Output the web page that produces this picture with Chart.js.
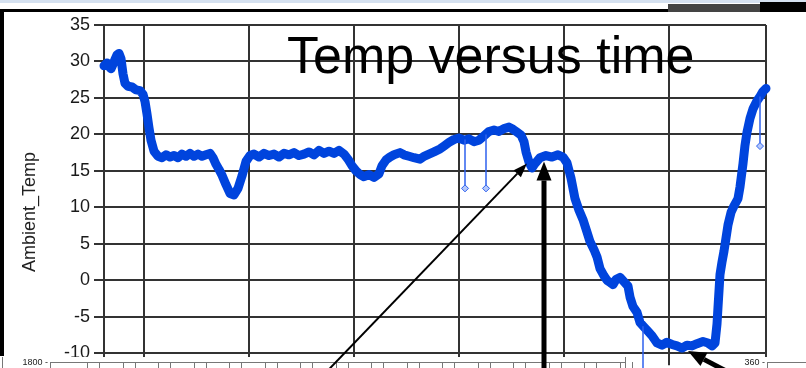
<!DOCTYPE html>
<html>
<head>
<meta charset="utf-8">
<script src="https://cdn.jsdelivr.net/npm/chart.js@4.4.1/dist/chart.umd.min.js"></script>
<style>
	html, body { margin: 0; padding: 0; background: #fff; }
</style>
</head>
<body>
<canvas id="myChart" width="806" height="368"></canvas>
<script>
const CHART_TITLE = "Temp versus time";
const Y_TITLE = "Ambient_Temp";
const X_GRID = [0, 40, 145, 250, 355, 460, 565, 662];

// time (samples) and ambient temperature
const timeVals = [0, 3, 5, 7, 9, 11, 13, 15, 17, 19, 21, 24, 28, 32, 36, 39, 41, 43, 45, 47,
	50, 54, 58, 62, 66, 70, 74, 78, 82, 86, 90, 94, 98, 102, 106, 109, 112, 115, 118, 122,
	126, 130, 134, 138, 142, 146, 150, 155, 160, 165, 170, 175, 180, 185, 190, 195, 200, 205, 210, 215,
	220, 225, 230, 235, 240, 244, 248, 252, 256, 260, 265, 270, 275, 278, 282, 286, 290, 296, 300, 305,
	310, 316, 320, 325, 330, 336, 340, 345, 350, 355, 360, 365, 370, 375, 380, 385, 390, 395, 400, 405,
	409, 413, 417, 420, 422, 425, 428, 431, 436, 442, 448, 454, 459, 463, 467, 471, 475, 479, 483, 486,
	490, 493, 496, 500, 503, 506, 509, 512, 516, 520, 524, 526, 529, 533, 536, 540, 544, 548, 553, 558,
	563, 568, 573, 578, 583, 588, 593, 599, 604, 608, 611, 613, 614, 616, 618, 620, 622, 624, 627, 630,
	634, 636, 639, 641, 643, 646, 649, 653, 656, 659, 662];
const tempVals = [29.4, 29.8, 29.3, 29.0, 29.6, 30.3, 30.9, 31.1, 30.4, 28.3, 27.0, 26.6, 26.5, 26.1, 26.0, 25.5, 24.5, 22.8, 20.9, 19.2,
	17.7, 17.0, 16.8, 17.2, 16.9, 17.1, 16.8, 17.3, 17.0, 17.4, 17.0, 17.3, 17.0, 17.2, 17.4, 16.8, 15.9, 15.2, 14.4, 13.1,
	11.9, 11.7, 12.6, 14.3, 16.3, 17.1, 17.3, 16.9, 17.4, 17.1, 17.3, 16.9, 17.4, 17.2, 17.5, 17.1, 17.3, 17.6, 17.2, 17.8,
	17.4, 17.7, 17.4, 17.8, 17.3, 16.6, 15.7, 15.0, 14.5, 14.2, 14.5, 14.1, 14.6, 15.7, 16.5, 16.9, 17.2, 17.5, 17.2, 17.0,
	16.8, 16.6, 17.0, 17.3, 17.6, 18.0, 18.4, 18.9, 19.3, 19.5, 19.2, 19.4, 19.0, 19.2, 19.8, 20.4, 20.6, 20.4, 20.8, 21.0,
	20.7, 20.3, 19.9, 19.0, 17.6, 16.2, 15.4, 16.0, 16.8, 17.1, 16.9, 17.2, 16.9, 16.1, 14.0, 11.2, 9.6, 8.3, 6.6, 5.3,
	4.2, 3.2, 1.6, 0.6, 0.0, -0.3, -0.6, 0.1, 0.4, -0.2, -0.8, -2.3, -3.6, -4.4, -5.8, -6.4, -7.0, -7.6, -8.6, -8.9,
	-8.5, -8.8, -9.0, -9.3, -8.9, -9.0, -8.7, -8.4, -8.6, -9.0, -8.6, -6.0, -3.7, 0.8, 2.5, 4.0, 5.8, 7.6, 9.3, 10.2,
	11.2, 12.8, 16.0, 18.5, 20.3, 22.2, 23.5, 24.6, 25.2, 25.9, 26.3];

// single-sample dropouts
const spikeTimes = [361, 382, 539, 656];
const spikeTops = [19.3, 20.0, -6.3, 25.2];
const spikeBottoms = [12.6, 12.6, -12.5, 18.4];

// arrow tips (data coords) pasted on the slide
const arrowTips = [[423, 16.0], [440, 16.3], [584, -9.7]];

const mainData = timeVals.map((t, i) => ({ x: t, y: tempVals[i] }));
const spikeData = [];
spikeTimes.forEach((t, i) => {
	spikeData.push({ x: t, y: spikeTops[i] }, { x: t, y: spikeBottoms[i] }, { x: t, y: null });
});

const FONT = '"Liberation Sans", Arial, sans-serif';

function arrow(ctx, x1, y1, x2, y2, w, headLen, headW) {
	const ang = Math.atan2(y2 - y1, x2 - x1);
	const bx = x2 - Math.cos(ang) * headLen;
	const by = y2 - Math.sin(ang) * headLen;
	ctx.save();
	ctx.strokeStyle = "#000";
	ctx.fillStyle = "#000";
	ctx.lineWidth = w;
	ctx.beginPath();
	ctx.moveTo(x1, y1);
	ctx.lineTo(bx, by);
	ctx.stroke();
	ctx.beginPath();
	ctx.moveTo(x2, y2);
	ctx.lineTo(bx + Math.sin(ang) * headW / 2, by - Math.cos(ang) * headW / 2);
	ctx.lineTo(bx - Math.sin(ang) * headW / 2, by + Math.cos(ang) * headW / 2);
	ctx.closePath();
	ctx.fill();
	ctx.restore();
}

const slidePlugin = {
	id: "slide",
	beforeDraw(chart) {
		const ctx = chart.ctx;
		ctx.save();
		ctx.fillStyle = "#fff";
		ctx.fillRect(0, 0, 806, 368);
		ctx.fillStyle = "#d5e1f0";
		ctx.fillRect(0, 0, 806, 3);
		ctx.fillStyle = "#000";
		ctx.fillRect(0, 9, 806, 3);
		ctx.fillStyle = "#444";
		ctx.fillRect(668, 4, 92, 8);
		ctx.fillStyle = "#000";
		ctx.fillRect(760, 2, 46, 10);
		ctx.fillRect(0, 9, 4, 347);
		ctx.restore();
	},
	afterDatasetsDraw(chart) {
		const ctx = chart.ctx;
		const xs = chart.scales.x, ys = chart.scales.y;
		ctx.save();
		// pasted panels along the bottom
		ctx.fillStyle = "#fff";
		ctx.fillRect(0, 357, 625, 11);
		ctx.fillRect(720, 357, 86, 11);
		ctx.strokeStyle = "#777";
		ctx.lineWidth = 1;
		ctx.beginPath();
		ctx.moveTo(2.5, 357); ctx.lineTo(2.5, 368);
		ctx.moveTo(50, 362.5); ctx.lineTo(625, 362.5);
		ctx.moveTo(50.5, 362); ctx.lineTo(50.5, 368);
		for (let x = 87; x < 620; x += 35.5) {
			ctx.moveTo(Math.round(x) + 0.5, 362); ctx.lineTo(Math.round(x) + 0.5, 368);
			ctx.moveTo(Math.round(x + 12) + 0.5, 362); ctx.lineTo(Math.round(x + 12) + 0.5, 368);
		}
		ctx.moveTo(625.5, 357); ctx.lineTo(625.5, 368);
		ctx.moveTo(767, 362.5); ctx.lineTo(806, 362.5);
		ctx.moveTo(767.5, 362); ctx.lineTo(767.5, 368);
		ctx.stroke();
		ctx.fillStyle = "#222";
		ctx.font = "9px " + FONT;
		ctx.textAlign = "right";
		ctx.textBaseline = "middle";
		ctx.fillText("1800 -", 48, 363);
		ctx.fillText("360 -", 765, 363);

		// title
		ctx.fillStyle = "#000";
		ctx.font = "52px " + FONT;
		ctx.textAlign = "left";
		ctx.textBaseline = "alphabetic";
		ctx.fillText(CHART_TITLE, 287, 73);

		// y title
		ctx.translate(35, 212);
		ctx.rotate(-Math.PI / 2);
		ctx.fillStyle = "#222";
		ctx.font = "18px " + FONT;
		ctx.textAlign = "center";
		ctx.fillText(Y_TITLE, 0, 0);
		ctx.restore();

		// annotation arrows
		const p = arrowTips.map(([t, v]) => [xs.getPixelForValue(t), ys.getPixelForValue(v)]);
		arrow(ctx, p[0][0] - 206, p[0][1] + 214, p[0][0], p[0][1], 2, 14, 10);
		arrow(ctx, p[1][0], 372, p[1][0], p[1][1], 5, 19, 15);
		arrow(ctx, p[2][0] + 40, p[2][1] + 21, p[2][0], p[2][1], 5, 18, 15);
	}
};

const ctx = document.getElementById("myChart");

const myChart = new Chart(ctx, {
	type: "line",
	plugins: [slidePlugin],
	data: {
		datasets: [
			{
				label: "spikes",
				data: spikeData,
				borderColor: "#2f62ee",
				borderWidth: 1.5,
				pointStyle: "rectRot",
				pointRadius: (c) => (c.dataIndex % 3 === 1 ? 3.5 : 0),
				pointBackgroundColor: "#b4c8fb",
				pointBorderColor: "#2f62ee",
				pointBorderWidth: 1,
				spanGaps: false,
				clip: false,
			},
			{
				label: Y_TITLE,
				data: mainData,
				borderColor: "#0044dd",
				borderWidth: 9,
				borderJoinStyle: "round",
				borderCapStyle: "round",
				pointRadius: 0,
				tension: 0,
				clip: false,
			},
		],
	},
	options: {
		responsive: false,
		animation: false,
		devicePixelRatio: 1,
		layout: { padding: { top: 25, right: 40, left: 0, bottom: 0 } },
		plugins: {
			legend: { display: false },
			tooltip: { enabled: false },
			title: { display: false },
		},
		scales: {
			x: {
				type: "linear",
				min: 0,
				max: 662,
				afterBuildTicks: (s) => { s.ticks = X_GRID.map((v) => ({ value: v })); },
				afterFit: (s) => { s.height = 12; },
				ticks: { display: false },
				grid: { color: "#333", lineWidth: 2, drawTicks: true, tickLength: 12 },
				border: { color: "#333", width: 2 },
			},
			y: {
				min: -10,
				max: 35,
				afterFit: (s) => { s.width = 104; },
				ticks: {
					stepSize: 5,
					padding: 4,
					color: "#1a1a1a",
					font: { family: FONT, size: 18 },
				},
				grid: { color: "#333", lineWidth: 2, tickLength: 10 },
				border: { color: "#333", width: 2 },
			},
		},
	},
});
</script>
</body>
</html>
